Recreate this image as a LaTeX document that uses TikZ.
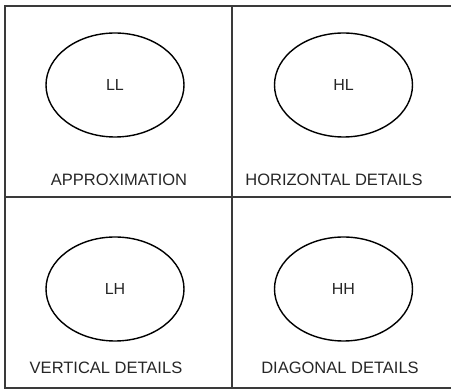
\documentclass[tikz,border=0pt]{standalone}
\usepackage{fontspec}
\setmainfont{Liberation Sans}
\usetikzlibrary{shapes.geometric}
\definecolor{gridcol}{HTML}{3A3A3A}
\definecolor{txtcol}{HTML}{262626}
\begin{document}
\begin{tikzpicture}[x=1pt,y=-1pt,
  band/.style={draw=gridcol,line width=2pt},
  oval/.style={draw=black,line width=1.4pt,ellipse,minimum width=138pt,minimum height=104pt,inner sep=0pt,
    font=\fontsize{16}{18}\selectfont,text=txtcol},
  caption/.style={font=\fontsize{16.5}{19}\selectfont,text=txtcol,inner sep=0pt,anchor=base}]
\useasboundingbox (0,0) rectangle (451,390);
\coordinate (tl) at (5,6);
\coordinate (tr) at (451,6);
\coordinate (bl) at (5,388);
\coordinate (br) at (451,388);
\coordinate (mt) at (232,6);
\coordinate (mb) at (232,388);
\coordinate (ml) at (5,197);
\coordinate (mr) at (451,197);
\draw[band] (tr) -- (tl) -- (bl) -- (br);
\draw[band] (mt) -- (mb);
\draw[band] (ml) -- (mr);
\node[oval] (ll) at (115,85) {LL};
\node[oval] (hl) at (343.5,85) {HL};
\node[oval] (lh) at (115,289) {LH};
\node[oval] (hh) at (343.5,289) {HH};
\node[caption] (approx) at (119,186) {APPROXIMATION};
\node[caption] (hdet) at (334,186) {HORIZONTAL DETAILS};
\node[caption] (vdet) at (106,374) {VERTICAL DETAILS};
\node[caption] (ddet) at (340,374) {DIAGONAL DETAILS};
\end{tikzpicture}
\end{document}
